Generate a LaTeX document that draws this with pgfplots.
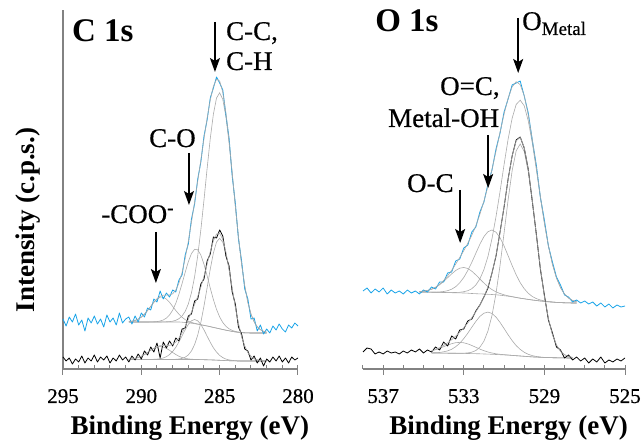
\documentclass[border=0pt]{standalone}
\usepackage{pgfplots}
\pgfplotsset{compat=1.18}
\usepackage{pgfplotstable}
\usepackage{fontspec}
\setmainfont{Liberation Serif}
\newfontfamily\tms{Liberation Serif}
\newfontfamily\tmsr{Liberation Serif}[FakeBold=0.6]
\usetikzlibrary{arrows.meta}
\definecolor{xblue}{RGB}{24,163,232}
\definecolor{fitgray}{RGB}{170,170,170}
\definecolor{axgray}{RGB}{130,130,130}

% C 1s, upper (blue) spectrum: fit
\pgfplotstableread{
E bg coo co cc env
290.8 47 47.4 47 47 47.4
290.6 47 47.8 47 47 47.8
290.4 47 48.5 47 47 48.5
290.2 47 49.9 47 47 49.9
290.0 47 51.9 47 47 51.9
289.8 47 54.8 47 47 54.8
289.6 47 58.5 47 47 58.5
289.4 47 62.6 47.1 47 62.7
289.2 47 66.7 47.2 47 66.8
289.0 47 69.9 47.4 47 70.3
288.8 47 71.8 48.0 47 72.7
288.6 47 71.8 49.0 47.1 73.8
288.4 47 69.9 50.9 47.2 73.9
288.2 47 66.7 54.0 47.4 74.0
288.0 47 62.6 58.8 47.8 75.2
287.8 47 58.5 65.7 48.7 78.9
287.6 47 54.8 74.8 50.3 85.9
287.4 46.8 51.7 85.4 53.0 96.5
287.2 46.5 49.4 96.7 57.6 110.7
287.0 46.2 47.7 107.3 65.1 127.7
286.8 45.8 46.6 115.5 76.2 146.7
286.6 45.3 45.7 119.7 92.3 167.1
286.4 44.8 45.0 119.2 113.2 187.8
286.2 44.2 44.3 113.9 139.3 209.0
286.0 43.6 43.6 104.7 169.2 230.3
285.8 43.0 43.0 93.2 200.6 250.8
285.6 42.3 42.3 80.9 230.4 269.0
285.4 41.6 41.6 69.4 254.9 282.7
285.2 40.9 40.9 59.6 271.0 289.7
285.0 40.2 40.2 52.0 276.2 288.0
284.8 39.5 39.5 46.5 269.6 276.6
284.6 38.8 38.8 42.7 252.1 256.0
284.4 38.2 38.2 40.2 226.3 228.3
284.2 37.6 37.6 38.6 195.2 196.2
284.0 37.1 37.1 37.5 162.7 163.1
283.8 36.7 36.7 36.9 131.8 132.0
283.6 36.4 36.4 36.5 104.8 104.9
283.4 36.2 36.2 36.2 83.2 83.2
283.2 36.1 36.1 36.1 66.5 66.5
283.0 36.0 36.0 36.0 54.9 54.9
282.8 36.0 36.0 36.0 47.1 47.1
282.6 36.0 36.0 36.0 42.2 42.2
282.4 36.0 36.0 36.0 39.3 39.3
282.2 36.0 36.0 36.0 37.7 37.7
282.0 36.0 36.0 36.0 36.8 36.8
}\cbfit

% C 1s, lower (black) spectrum: fit
\pgfplotstableread{
E bg coo co cc env
290.8 9.5 9.8 9.5 9.5 9.8
290.6 9.5 10.1 9.5 9.5 10.1
290.4 9.5 10.6 9.5 9.5 10.6
290.2 9.5 11.5 9.5 9.5 11.5
290.0 9.5 12.7 9.5 9.5 12.7
289.8 9.5 14.5 9.5 9.5 14.5
289.6 9.5 16.5 9.5 9.5 16.5
289.4 9.5 18.7 9.6 9.5 18.8
289.2 9.5 20.6 9.7 9.5 20.8
289.0 9.5 22.0 9.9 9.5 22.4
288.8 9.5 22.5 10.3 9.5 23.3
288.6 9.5 22.0 11.0 9.5 23.5
288.4 9.5 20.6 12.3 9.5 23.4
288.2 9.5 18.7 14.4 9.5 23.6
288.0 9.5 16.5 17.5 9.6 24.6
287.8 9.5 14.5 21.7 9.7 26.9
287.6 9.5 12.7 27.1 10.0 30.8
287.4 9.5 11.5 33.1 10.6 36.1
287.2 9.5 10.6 39.3 11.8 42.7
287.0 9.5 10.1 44.6 14.1 49.7
286.8 9.5 9.8 48.2 18.0 57.0
286.6 9.5 9.6 49.5 24.4 64.5
286.4 9.45 9.5 48.2 33.9 72.6
286.2 9.4 9.4 44.5 46.7 81.8
286.0 9.3 9.3 39.1 63.0 92.8
285.8 9.2 9.2 32.8 81.3 104.9
285.6 9.1 9.1 26.7 99.9 117.5
285.4 9.0 9.0 21.2 116.0 128.2
285.2 8.85 8.85 16.9 127.0 135.0
285.0 8.7 8.7 13.6 130.7 135.6
284.8 8.55 8.55 11.4 126.7 129.5
284.6 8.4 8.4 9.9 115.4 116.9
284.4 8.3 8.3 9.1 99.1 99.9
284.2 8.2 8.2 8.6 80.3 80.7
284.0 8.1 8.1 8.3 61.8 62.0
283.8 8.0 8.0 8.1 45.3 45.4
283.6 8.0 8.0 8.0 32.4 32.4
283.4 8.0 8.0 8.0 22.9 22.9
283.2 8.0 8.0 8.0 16.5 16.5
283.0 8.0 8.0 8.0 12.6 12.6
282.8 8.0 8.0 8.0 10.3 10.3
282.6 8.0 8.0 8.0 9.1 9.1
282.4 8.0 8.0 8.0 8.5 8.5
282.2 8.0 8.0 8.0 8.2 8.2
282.0 8.0 8.0 8.0 8.1 8.1
}\ckfit

\pgfplotstableread{
E y
295.0 50
294.8 43
294.6 52
294.4 47
294.2 55
294.0 44
293.8 49
293.6 38
293.4 51
293.2 46
293.0 53
292.8 45
292.6 50
292.4 42
292.2 54
292.0 47
291.8 51
291.6 44
291.4 56
291.2 46
291.0 50
290.8 52
290.6 45
290.4 53
290.2 47
290.0 56
289.8 52
289.6 61
289.4 59
289.2 70
289.0 67
288.8 78
288.6 70
288.4 76
288.2 72
288.0 79
287.8 77
287.6 89
287.4 94
287.2 114
287.0 125
286.8 150
286.6 165
286.4 190
286.2 207
286.0 233
285.8 249
285.6 271
285.4 281
285.2 292
285.0 286
284.8 279
284.6 254
284.4 231
284.2 193
284.0 166
283.8 130
283.6 108
283.4 80
283.2 70
283.0 50
282.8 51
282.6 38
282.4 44
282.2 35
282.0 40
281.8 36
281.6 43
281.4 39
281.2 45
281.0 40
280.8 37
280.6 44
280.4 41
280.2 46
280.0 43
}\cbdat

\pgfplotstableread{
E y
295.0 12
294.8 8
294.6 11
294.4 5
294.2 10
294.0 7
293.8 13
293.6 6
293.4 11
293.2 8
293.0 14
292.8 7
292.6 12
292.4 9
292.2 13
292.0 6
291.8 11
291.6 8
291.4 14
291.2 9
291.0 12
290.8 7
290.6 13
290.4 9
290.2 15
290.0 10
289.8 18
289.6 14
289.4 22
289.2 17
289.0 26
288.8 11
288.6 27
288.4 21
288.2 28
288.0 23
287.8 31
287.6 28
287.4 40
287.2 41
287.0 53
286.8 55
286.6 68
286.4 70
286.2 85
286.0 90
285.8 108
285.6 115
285.4 132
285.2 131
285.0 139
284.8 133
284.6 113
284.4 103
284.2 77
284.0 65
283.8 42
283.6 35
283.4 20
283.2 18
283.0 9
282.8 13
282.6 6
282.4 11
282.2 3
282.0 10
281.8 7
281.6 12
281.4 8
281.2 13
281.0 7
280.8 11
280.6 6
280.4 12
280.2 9
280.0 11
}\ckdat

% O 1s, upper (blue) spectrum: fit
\pgfplotstableread{
E bg oc oh om env
535.2 77.0 77.4 77.0 77.0 77.4
535.0 77.0 77.9 77.0 77.0 77.9
534.8 76.9 78.6 76.9 76.9 78.6
534.6 76.8 79.7 76.9 76.8 79.8
534.4 76.7 81.6 76.9 76.7 81.8
534.2 76.6 84.2 77.1 76.6 84.7
534.0 76.5 87.5 77.5 76.5 88.5
533.8 76.4 91.3 78.3 76.4 93.2
533.6 76.3 95.1 79.8 76.4 98.7
533.4 76.2 98.5 82.3 76.5 104.9
533.2 76.1 100.8 86.2 76.7 111.5
533.0 76.0 101.5 91.5 77.3 118.3
532.8 75.8 100.5 98.5 78.3 125.7
532.6 75.5 97.8 106.7 80.3 133.8
532.4 75.3 94.1 115.8 84.0 143.3
532.2 75.1 90.0 124.8 90.1 154.7
532.0 75.0 86.0 132.4 99.4 167.8
531.8 74.7 82.3 137.3 112.5 182.7
531.6 74.5 79.4 139.0 130.3 199.7
531.4 74.2 77.1 136.8 152.4 217.9
531.2 73.8 75.5 131.2 177.5 236.6
531.0 73.3 74.2 123.0 204.4 255.0
530.8 72.8 73.2 113.3 229.8 270.7
530.6 72.2 72.4 103.4 250.7 282.1
530.4 71.5 71.6 94.2 264.5 287.3
530.2 70.8 70.8 86.3 268.8 284.3
530.0 70.2 70.2 80.3 263.2 273.3
529.8 69.6 69.6 75.7 248.1 254.2
529.6 69.0 69.0 72.5 226.0 229.5
529.4 68.5 68.5 70.4 199.6 201.5
529.2 68.0 68.0 69.0 171.7 172.7
529.0 67.6 67.6 68.1 145.8 146.3
528.8 67.2 67.2 67.4 123.0 123.2
528.6 66.9 66.9 67.0 104.7 104.8
528.4 66.6 66.6 66.6 91.0 91.0
528.2 66.4 66.4 66.4 81.4 81.4
528.0 66.2 66.2 66.2 74.9 74.9
527.8 66.1 66.1 66.1 70.9 70.9
527.6 66.0 66.0 66.0 68.5 68.5
527.4 66.0 66.0 66.0 67.3 67.3
}\obfit

% O 1s, lower (black) spectrum: fit
\pgfplotstableread{
E bg oc oh om env
534.6 16.0 18.1 16.1 16.0 18.2
534.4 16.0 19.3 16.3 16.0 19.6
534.2 15.9 20.6 16.5 15.9 21.3
534.0 15.9 22.3 17.2 15.9 23.6
533.8 15.8 23.9 18.1 15.8 26.2
533.6 15.7 25.3 19.7 15.7 29.3
533.4 15.7 26.3 22.3 15.7 32.9
533.2 15.6 26.6 25.7 15.7 36.8
533.0 15.6 26.2 30.4 15.8 41.3
532.8 15.5 25.1 35.8 16.1 46.0
532.6 15.4 23.5 41.8 16.8 51.4
532.4 15.3 21.7 47.6 18.5 57.2
532.2 15.2 19.9 52.6 21.8 63.9
532.0 15.0 18.3 55.8 27.8 71.9
531.8 14.9 17.0 56.9 38.0 82.1
531.6 14.7 16.0 55.5 53.5 95.6
531.4 14.5 15.2 51.9 75.6 113.7
531.2 14.3 14.7 46.6 103.6 136.3
531.0 14.1 14.3 40.5 136.0 162.6
530.8 13.9 14.0 34.2 169.1 189.5
530.6 13.6 13.6 28.4 198.3 213.1
530.4 13.3 13.3 23.4 218.1 228.2
530.2 13.0 13.0 19.6 225.0 231.6
530.0 12.7 12.7 16.7 217.5 221.5
529.8 12.4 12.4 14.7 197.1 199.4
529.6 12.1 12.1 13.4 167.3 168.6
529.4 11.9 11.9 12.5 133.8 134.4
529.2 11.7 11.7 12.0 101.0 101.3
529.0 11.5 11.5 11.6 72.6 72.7
528.8 11.4 11.4 11.5 50.2 50.3
528.6 11.3 11.3 11.3 34.4 34.4
528.4 11.2 11.2 11.2 24.0 24.0
528.2 11.1 11.1 11.1 17.7 17.7
528.0 11.1 11.1 11.1 14.3 14.3
527.8 11.0 11.0 11.0 12.4 12.4
527.6 11.0 11.0 11.0 11.6 11.6
}\okfit

\pgfplotstableread{
E y
538.0 78
537.8 81
537.6 76
537.4 80
537.2 77
537.0 81
536.8 75
536.6 79
536.4 76
536.2 78
536.0 75
535.8 79
535.6 76
535.4 78
535.2 75
535.0 79
534.8 77
534.6 82
534.4 80
534.2 87
534.0 87
533.8 96
533.6 97
533.4 108
533.2 110
533.0 121
532.8 124
532.6 137
532.4 142
532.2 157
532.0 167
531.8 185
531.6 199
531.4 220
531.2 236
531.0 257
530.8 270
530.6 284
530.4 286
530.2 288
530.0 273
529.8 256
529.6 229
529.4 204
529.2 172
529.0 149
528.8 123
528.6 107
528.4 92
528.2 84
528.0 74
527.8 72
527.6 67
527.4 69
527.2 66
527.0 68
526.8 65
526.6 67
526.4 63
526.2 66
526.0 62
525.8 65
525.6 61
525.4 64
525.2 62
525.0 63
}\obdat

\pgfplotstableread{
E y
538.0 17
537.8 21
537.6 20
537.4 15
537.2 17
537.0 15
536.8 18
536.6 16
536.4 17
536.2 15
536.0 18
535.8 16
535.6 19
535.4 17
535.2 20
535.0 16
534.8 19
534.6 17
534.4 22
534.2 19
534.0 27
533.8 23
533.6 33
533.4 30
533.2 39
533.0 40
532.8 48
532.6 50
532.4 58
532.2 64
532.0 72
531.8 81
531.6 96
531.4 113
531.2 137
531.0 162
530.8 190
530.6 213
530.4 229
530.2 232
530.0 221
529.8 200
529.6 168
529.4 135
529.2 100
529.0 74
528.8 49
528.6 36
528.4 22
528.2 19
528.0 11
527.8 14
527.6 9
527.4 12
527.2 8
527.0 11
526.8 6
526.6 10
526.4 7
526.2 12
526.0 6
525.8 9
525.6 7
525.4 10
525.2 8
525.0 11
}\okdat

\pgfplotsset{
  xps/.style={
    scale only axis, height=359pt, ymin=0, ymax=359,
    x dir=reverse, clip=false,
    axis x line*=bottom,
    ytick=\empty,
    axis line style={draw=axgray, line width=1.3pt},
    tick align=inside,
    major tick length=10pt, minor tick length=4pt,
    every major tick/.append style={yshift=-6pt},
    tick style={draw=axgray, line width=1pt},
    xticklabel style={font=\tmsr\fontsize{21}{21}\selectfont, anchor=base, yshift=-34pt, inner sep=0pt},
    /pgf/number format/assume math mode=true,
    /pgf/number format/1000 sep={},
  },
}
\tikzset{
  fit/.style={draw=fitgray, line width=0.6pt},
  dblue/.style={draw=xblue, line width=0.8pt, line join=round},
  dblack/.style={draw=black, line width=0.8pt, line join=round},
  arr/.style={line width=1.4pt, -{Stealth[length=14pt, width=10pt, inset=3pt]}},
  ann/.style={anchor=base west, inner sep=0pt, font=\tmsr\fontsize{27}{27}\selectfont},
  ttl/.style={anchor=base west, inner sep=0pt, font=\tms\bfseries\fontsize{33}{33}\selectfont},
  lab/.style={anchor=base, inner sep=0pt, font=\tms\bfseries\fontsize{27}{27}\selectfont},
}

\begin{document}
\begin{tikzpicture}
\path[use as bounding box] (0,0) rectangle (643pt,446pt);

% ---------------- C 1s ----------------
\begin{axis}[xps, at={(63pt,77pt)}, anchor=south west, width=235pt,
  xmin=280, xmax=295, axis y line*=left,
  xtick={280,285,290,295},
  minor xtick={281,282,283,284,286,287,288,289,291,292,293,294}]
  \addplot[fit] table[x=E,y=bg] {\cbfit};
  \addplot[fit] table[x=E,y=coo] {\cbfit};
  \addplot[fit] table[x=E,y=co] {\cbfit};
  \addplot[fit] table[x=E,y=cc] {\cbfit};
  \addplot[fit] table[x=E,y=bg] {\ckfit};
  \addplot[fit] table[x=E,y=coo] {\ckfit};
  \addplot[fit] table[x=E,y=co] {\ckfit};
  \addplot[fit] table[x=E,y=cc] {\ckfit};
  \addplot[dblue] table[x=E,y=y] {\cbdat};
  \addplot[dblack] table[x=E,y=y] {\ckdat};
  \addplot[fit] table[x=E,y=env] {\cbfit};
  \addplot[fit] table[x=E,y=env] {\ckfit};

  \node[ttl] at (axis cs:294.43,327) {C 1s};
  \node[ann] at (axis cs:284.6,329) {C-C,};
  \node[ann] at (axis cs:284.6,299) {C-H};
  \draw[arr] (axis cs:285.3,347) -- (axis cs:285.3,297);
  \node[ann] at (axis cs:289.51,222) {C-O};
  \draw[arr] (axis cs:286.96,216) -- (axis cs:286.96,164);
  \node[ann] at (axis cs:292.57,146) {-COO\textsuperscript{-}};
  \draw[arr] (axis cs:289.07,137) -- (axis cs:289.07,86);
  \node[lab, xshift=-28pt, rotate=90] at (axis cs:295,149) {Intensity (c.p.s.)};
  \node[lab, yshift=-66pt] at (axis cs:286.9,0) {Binding Energy (eV)};
\end{axis}

% ---------------- O 1s ----------------
\begin{axis}[xps, at={(363pt,77pt)}, anchor=south west, width=262pt,
  xmin=525, xmax=538, axis y line=none,
  xtick={525,529,533,537},
  minor xtick={526,527,528,530,531,532,534,535,536,538}]
  \addplot[fit] table[x=E,y=bg] {\obfit};
  \addplot[fit] table[x=E,y=oc] {\obfit};
  \addplot[fit] table[x=E,y=oh] {\obfit};
  \addplot[fit] table[x=E,y=om] {\obfit};
  \addplot[fit] table[x=E,y=bg] {\okfit};
  \addplot[fit] table[x=E,y=oc] {\okfit};
  \addplot[fit] table[x=E,y=oh] {\okfit};
  \addplot[fit] table[x=E,y=om] {\okfit};
  \addplot[dblue] table[x=E,y=y] {\obdat};
  \addplot[dblack] table[x=E,y=y] {\okdat};
  \addplot[fit] table[x=E,y=env] {\obfit};
  \addplot[fit] table[x=E,y=env] {\okfit};

  \node[ttl] at (axis cs:537.4,337) {O 1s};
  \node[ann] at (axis cs:530.11,339) {O\raisebox{-5pt}{\fontsize{19}{19}\selectfont Metal}};
  \draw[arr] (axis cs:530.3,351) -- (axis cs:530.3,296);
  \node[ann] at (axis cs:534.18,274) {O=C,};
  \node[ann] at (axis cs:536.76,242) {Metal-OH};
  \draw[arr] (axis cs:531.79,234) -- (axis cs:531.79,181);
  \node[ann] at (axis cs:535.82,177) {O-C};
  \draw[arr] (axis cs:533.18,179) -- (axis cs:533.18,126);
  \node[lab, yshift=-66pt] at (axis cs:530.78,0) {Binding Energy (eV)};
\end{axis}
\end{tikzpicture}
\end{document}
